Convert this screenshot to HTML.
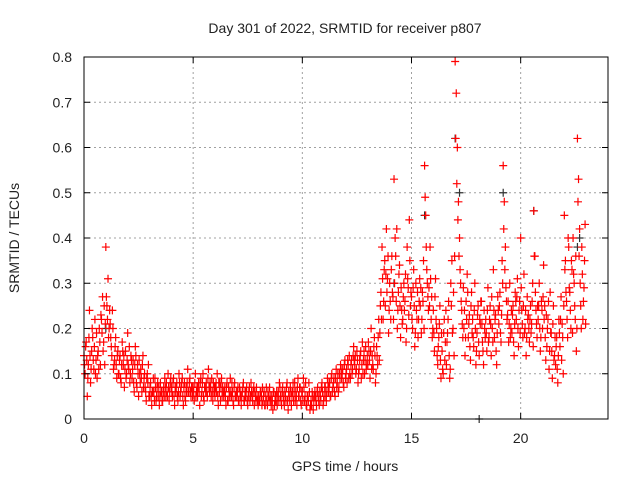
<!DOCTYPE html>
<html><head><meta charset="utf-8"><style>
body{margin:0;background:#fff}
svg text{font-family:"Liberation Sans",sans-serif;font-size:14px;fill:#222}
</style></head><body>
<svg id="chart" width="640" height="480" viewBox="0 0 640 480">
<text x="345" y="33" text-anchor="middle">Day 301 of 2022, SRMTID for receiver p807</text>
<text x="345" y="471" text-anchor="middle">GPS time / hours</text>
<text transform="translate(19,238) rotate(-90)" text-anchor="middle">SRMTID / TECUs</text>
<g id="grid"></g>
<g id="marks"></g>
<rect x="84" y="57" width="524" height="362" fill="none" stroke="#000" stroke-width="1"/>
<g id="ticks"></g>
</svg>
<script>
const xTicks=[0,5,10,15,20];
const yTicks=[0,0.1,0.2,0.3,0.4,0.5,0.6,0.7,0.8];
const yTickLabels=["0","0.1","0.2","0.3","0.4","0.5","0.6","0.7","0.8"];
const binHours=0.2;
const tec=[
.14,.10,.17,.05, .12,.24,.08,.15, .18,.11,.22,.13, .09,.15,.20,.12, .22,.27,.17,.12,
.38,.25,.31,.20, .21,.16,.24,.11, .13,.18,.09,.15, .10,.14,.08,.17, .12,.07,.15,.10,
.19,.11,.08,.14, .09,.13,.06,.16, .08,.12,.05,.10, .11,.06,.14,.09, .07,.04,.10,.12,
.05,.08,.03,.06, .06,.09,.04,.07, .05,.03,.08,.06, .04,.07,.09,.05, .06,.10,.04,.08,
.07,.05,.09,.03, .06,.08,.04,.10, .05,.07,.09,.03, .08,.04,.06,.11, .06,.09,.05,.07,
.07,.04,.10,.06, .05,.08,.03,.09, .06,.10,.04,.07, .08,.05,.11,.06, .07,.09,.04,.06,
.05,.08,.10,.03, .06,.04,.09,.07, .05,.07,.03,.08, .04,.06,.09,.05, .06,.03,.08,.05,
.05,.07,.04,.06, .03,.06,.08,.04, .05,.07,.03,.06, .04,.08,.05,.06, .03,.05,.07,.04,
.05,.04,.06,.03, .04,.06,.03,.07, .03,.05,.07,.04, .05,.02,.06,.04, .04,.03,.06,.08,
.05,.03,.07,.04, .06,.04,.08,.02, .05,.07,.03,.06, .04,.08,.06,.03, .09,.05,.07,.03,
.06,.09,.04,.08, .03,.05,.08,.02, .04,.06,.02,.05, .05,.03,.07,.04, .06,.04,.08,.03,
.05,.07,.04,.09, .06,.08,.05,.10, .07,.09,.05,.11, .08,.06,.10,.12, .09,.11,.07,.13,
.10,.08,.12,.14, .09,.13,.11,.16, .12,.10,.15,.08, .11,.14,.09,.17, .13,.10,.16,.12,
.12,.15,.09,.20, .14,.11,.18,.08, .16,.12,.22,.19, .28,.38,.22,.33, .25,.42,.31,.19,
.30,.22,.36,.27, .53,.40,.26,.20, .28,.34,.18,.24, .22,.30,.26,.17, .38,.29,.44,.25,
.27,.20,.33,.16, .30,.22,.18,.26, .25,.19,.28,.35, .56,.45,.33,.27, .29,.38,.22,.18,
.24,.15,.31,.20, .12,.18,.25,.09, .15,.10,.22,.17, .12,.19,.26,.09, .30,.35,.20,.14,
.79,.72,.60,.48, .40,.30,.24,.18, .20,.14,.26,.32, .18,.23,.13,.28, .22,.16,.30,.12,
.19,.25,.14,.21, .26,.17,.12,.20, .22,.15,.29,.18, .25,.14,.20,.33, .18,.23,.12,.27,
.21,.28,.17,.35, .56,.48,.38,.26, .23,.17,.30,.20, .19,.25,.14,.28, .22,.31,.16,.26,
.40,.24,.18,.32, .20,.14,.27,.23, .17,.25,.21,.30, .46,.36,.24,.18, .22,.30,.15,.26,
.20,.34,.25,.13, .16,.22,.11,.28, .19,.09,.25,.14, .12,.18,.08,.22, .16,.27,.21,.10,
.45,.35,.26,.18, .38,.28,.20,.33, .40,.30,.22,.15, .62,.53,.42,.25, .38,.22,.29,.43
];
const tec2=[
.12,.16,.13,.09, .18,.14,.11,.20, .13,.16,.10,.19, .14,.11,.17,.23, .19,.15,.25,.21,
.27,.22,.18,.24, .18,.14,.20,.12, .16,.12,.14,.10, .13,.09,.12,.15, .14,.11,.09,.13,
.12,.16,.10,.13, .11,.08,.12,.14, .07,.10,.13,.08, .09,.12,.07,.10, .06,.09,.08,.05,
.07,.05,.06,.09, .04,.07,.05,.08, .07,.05,.06,.04, .06,.05,.07,.08, .05,.07,.06,.09,
.06,.08,.05,.07, .07,.05,.06,.08, .06,.08,.05,.07, .05,.07,.08,.06, .08,.06,.07,.05,
.06,.08,.05,.07, .07,.06,.08,.05, .08,.05,.07,.06, .06,.09,.07,.08, .05,.06,.08,.07,
.07,.06,.05,.08, .08,.07,.05,.06, .06,.05,.07,.04, .07,.05,.06,.08, .04,.07,.05,.06,
.06,.04,.07,.05, .05,.07,.04,.06, .06,.04,.05,.07, .05,.06,.04,.07, .06,.04,.05,.03,
.04,.06,.05,.07, .05,.03,.05,.04, .06,.04,.05,.03, .04,.06,.03,.05, .06,.05,.04,.07,
.04,.06,.05,.03, .05,.07,.04,.06, .04,.06,.05,.08, .06,.04,.05,.07, .05,.07,.04,.06,
.04,.07,.05,.03, .05,.04,.06,.03, .03,.05,.04,.06, .04,.06,.05,.03, .05,.07,.06,.04,
.07,.05,.06,.08, .07,.05,.09,.06, .08,.06,.09,.07, .10,.07,.09,.11, .10,.08,.12,.09,
.11,.13,.09,.10, .12,.10,.14,.13, .14,.11,.13,.10, .13,.15,.12,.10, .15,.13,.11,.14,
.17,.13,.15,.11, .12,.16,.14,.10, .14,.18,.13,.25, .22,.31,.26,.35, .32,.28,.36,.24,
.26,.33,.28,.22, .30,.36,.42,.24, .32,.25,.29,.21, .27,.24,.32,.20, .31,.23,.35,.28,
.22,.29,.25,.19, .24,.28,.22,.31, .29,.22,.26,.20, .49,.38,.30,.24, .25,.31,.27,.20,
.19,.27,.22,.14, .16,.21,.13,.19, .11,.19,.13,.24, .17,.22,.14,.11, .25,.19,.28,.36,
.62,.52,.44,.36, .33,.26,.21,.29, .24,.18,.22,.28, .21,.16,.25,.19, .18,.24,.20,.15,
.23,.17,.22,.26, .21,.15,.24,.18, .19,.24,.17,.22, .21,.27,.17,.24, .22,.15,.19,.24,
.25,.19,.23,.30, .42,.33,.29,.22, .26,.21,.18,.24, .23,.17,.21,.26, .27,.20,.24,.19,
.29,.21,.25,.19, .24,.18,.22,.20, .22,.19,.26,.16, .36,.28,.21,.25, .25,.20,.18,.24,
.27,.22,.18,.23, .20,.26,.15,.19, .15,.21,.13,.18, .16,.11,.14,.19, .22,.13,.18,.25,
.33,.28,.22,.40, .29,.24,.35,.19, .32,.25,.36,.20, .48,.36,.30,.20, .32,.26,.35,.21
];
const grayHours=[1.0,14.2,15.6,17.0,17.2,19.2,20.6,22.6,22.7,18.1];
const grayTec=[0.20,0.30,0.45,0.62,0.50,0.50,0.46,0.38,0.40,0.0];
const X=h=>84+h*(524/24);
const Y=v=>419-v*(362/0.8);
const NS="http://www.w3.org/2000/svg";
const grid=document.getElementById('grid'),ticks=document.getElementById('ticks'),marks=document.getElementById('marks');
function ln(g,x1,y1,x2,y2,st,da){const l=document.createElementNS(NS,'line');l.setAttribute('x1',x1);l.setAttribute('y1',y1);l.setAttribute('x2',x2);l.setAttribute('y2',y2);l.setAttribute('stroke',st);if(da)l.setAttribute('stroke-dasharray',da);g.appendChild(l);return l;}
function tx(g,x,y,s,a){const t=document.createElementNS(NS,'text');t.setAttribute('x',x);t.setAttribute('y',y);t.setAttribute('text-anchor',a);t.textContent=s;g.appendChild(t);return t;}
xTicks.forEach(v=>{const x=X(v);
 if(v>0){const g=ln(grid,x,57,x,419,'#a0a0a0','2,3');}
 ln(ticks,x,419,x,413,'#000');ln(ticks,x,57,x,63,'#000');
 const t=tx(ticks,x,443,String(v),'middle');});
yTicks.forEach((v,i)=>{const y=Y(v);
 if(v>0&&v<0.8){const g=ln(grid,84,y,608,y,'#a0a0a0','2,3');}
 ln(ticks,84,y,90,y,'#000');ln(ticks,608,y,602,y,'#000');
 const t=tx(ticks,72,y+5,yTickLabels[i],'end');});
function plus(h,v,c,name){const x=X(h),y=Y(v);const p=document.createElementNS(NS,'path');
 p.setAttribute('d',`M${x-4},${y}H${x+4}M${x},${y-4}V${y+4}`);p.setAttribute('stroke',c);p.setAttribute('fill','none');p.setAttribute('stroke-width','1.2');
 
 
 marks.appendChild(p);}
grayHours.forEach((h,i)=>plus(h,grayTec[i],'#333','gray-point'));
tec.forEach((v,i)=>{const b=Math.floor(i/4),k=i%4;plus(b*binHours+k*binHours/4,v,'#ff0000','red-point');});
tec2.forEach((v,i)=>{const b=Math.floor(i/4),k=i%4;plus(b*binHours+k*binHours/4+binHours/8,v,'#ff0000','red-point');});
</script>
</body></html>
